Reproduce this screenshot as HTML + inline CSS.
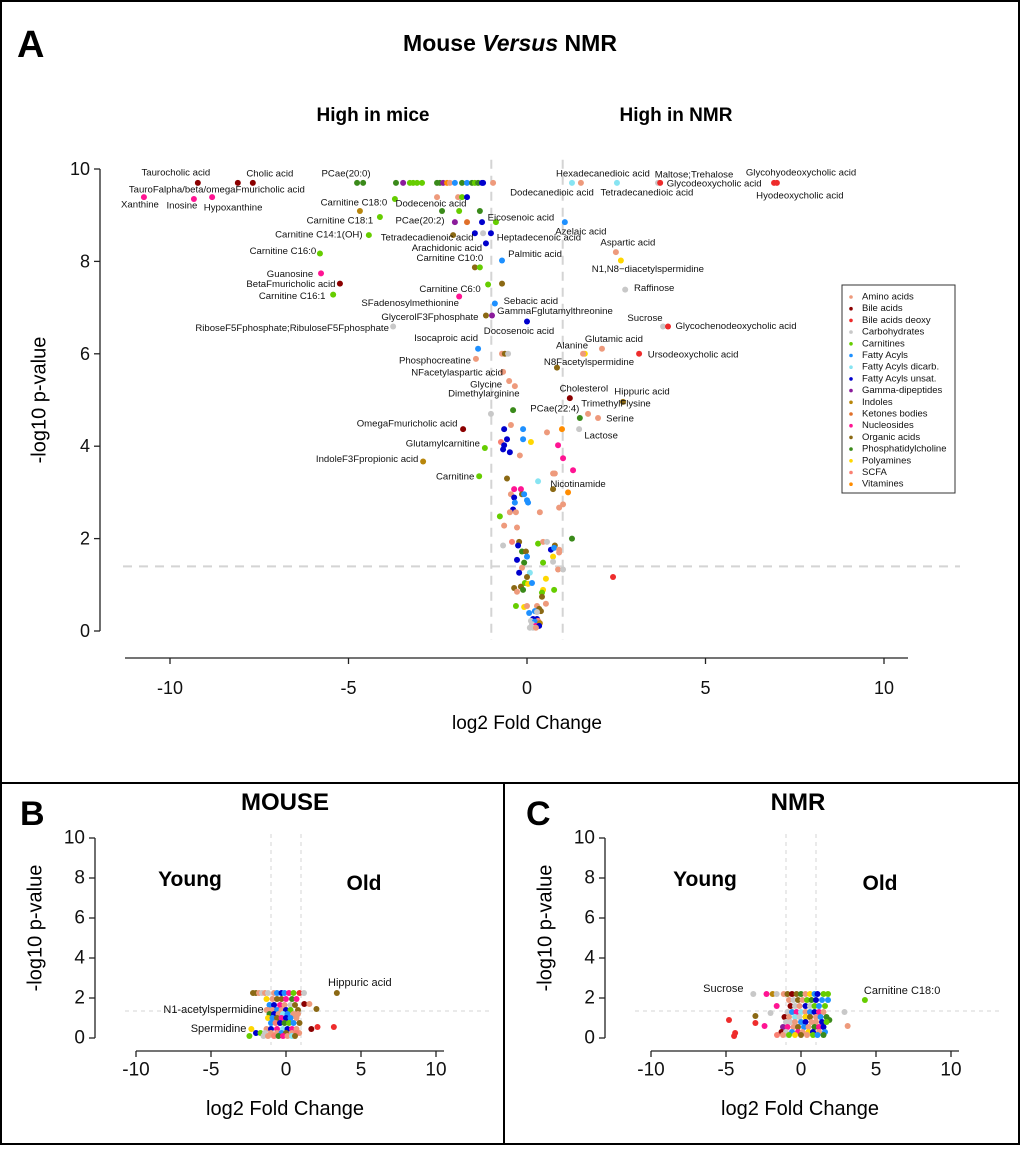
<!DOCTYPE html>
<html><head><meta charset="utf-8"><style>
html,body{margin:0;padding:0;background:#fff}
svg{display:block;font-family:"Liberation Sans",Arial,sans-serif}
</style></head><body>
<svg id="fig" width="1020" height="1163" viewBox="0 0 1020 1163" xmlns="http://www.w3.org/2000/svg">
<rect x="0" y="0" width="1020" height="1163" fill="#fff"/>
<rect x="1" y="1" width="1018" height="782" fill="none" stroke="#000" stroke-width="2"/>
<rect x="1" y="783" width="503" height="361" fill="none" stroke="#000" stroke-width="2"/>
<rect x="504" y="783" width="515" height="361" fill="none" stroke="#000" stroke-width="2"/>
<text x="17" y="57" font-size="38" font-weight="bold">A</text>
<text x="510" y="51" font-size="23" font-weight="bold" text-anchor="middle">Mouse <tspan font-style="italic">Versus</tspan> NMR</text>
<text x="373" y="121" font-size="19" font-weight="bold" text-anchor="middle">High in mice</text>
<text x="676" y="121" font-size="19" font-weight="bold" text-anchor="middle">High in NMR</text>
<text x="40" y="400" font-size="20" text-anchor="middle" transform="rotate(-90 40 400)" dominant-baseline="middle">-log10 p-value</text>
<text x="527" y="729" font-size="19" text-anchor="middle">log2 Fold Change</text>
<text x="20" y="825" font-size="34" font-weight="bold">B</text>
<text x="285" y="810" font-size="24" font-weight="bold" text-anchor="middle">MOUSE</text>
<text x="190" y="886" font-size="21" font-weight="bold" text-anchor="middle">Young</text>
<text x="364" y="890" font-size="21" font-weight="bold" text-anchor="middle">Old</text>
<text x="36" y="928" font-size="20" text-anchor="middle" transform="rotate(-90 36 928)" dominant-baseline="middle">-log10 p-value</text>
<text x="285" y="1115" font-size="20" text-anchor="middle">log2 Fold Change</text>
<text x="526" y="825" font-size="34" font-weight="bold">C</text>
<text x="798" y="810" font-size="24" font-weight="bold" text-anchor="middle">NMR</text>
<text x="705" y="886" font-size="21" font-weight="bold" text-anchor="middle">Young</text>
<text x="880" y="890" font-size="21" font-weight="bold" text-anchor="middle">Old</text>
<text x="546" y="928" font-size="20" text-anchor="middle" transform="rotate(-90 546 928)" dominant-baseline="middle">-log10 p-value</text>
<text x="800" y="1115" font-size="20" text-anchor="middle">log2 Fold Change</text>
<g id="legend"><rect x="842" y="285" width="113" height="208" fill="#fff" stroke="#333" stroke-width="1"/></g>
</svg>
<script>
const categories=['Amino acids','Bile acids','Bile acids deoxy','Carbohydrates','Carnitines','Fatty Acyls','Fatty Acyls dicarb.','Fatty Acyls unsat.','Gamma-dipeptides','Indoles','Ketones bodies','Nucleosides','Organic acids','Phosphatidylcholine','Polyamines','SCFA','Vitamines'];
const catColors=['#ee9a7c','#8b0000','#ee2c2c','#c8c8c8','#66cd00','#1e90ff','#87e4f2','#0000cd','#8b1c9b','#b8860b','#e0702a','#ff1493','#8b6914','#3a8a1a','#ffd700','#fa8072','#ff8c00'];
const xTicks=[-10,-5,0,5,10];
const yTicks=[0,2,4,6,8,10];
/* Panel A labelled points */
const aLabX=[-9.22,-8.10,-7.68,-10.73,-9.33,-8.82,-4.76,-3.70,-1.68,-4.12,-2.38,-4.43,-2.07,-1.15,-1.32,-5.80,-5.77,-5.24,-5.43,-1.09,-1.90,-1.15,-3.75,-0.90,-0.98,0.00,-1.37,-1.43,-0.67,-0.50,-0.34,-1.79,-1.18,-2.91,-1.34,2.10,1.57,3.14,0.84,1.20,2.69,1.71,1.99,1.48,1.46,1.15,1.51,1.26,2.52,3.67,3.73,6.92,7.00,-0.87,1.06,-1.01,-0.70,2.49,2.63,2.75,3.81,3.95];
const aLabY=[9.70,9.70,9.70,9.39,9.35,9.39,9.70,9.35,9.39,8.96,9.09,8.57,8.57,8.39,7.87,8.17,7.74,7.52,7.28,7.50,7.24,6.83,6.59,7.09,6.83,6.70,6.11,5.89,5.61,5.41,5.30,4.37,3.96,3.67,3.35,6.11,6.00,6.00,5.70,5.04,4.96,4.70,4.61,4.61,4.37,3.00,9.70,9.70,9.70,9.70,9.70,9.70,9.70,8.85,8.85,8.61,8.02,8.20,8.02,7.39,6.59,6.59];
const aLabCat=[1,1,1,11,11,11,13,4,7,4,13,4,12,7,4,4,11,1,4,4,11,12,3,5,8,7,5,0,0,0,0,1,4,9,4,0,0,2,12,1,12,0,0,13,3,16,0,6,6,3,2,2,2,4,5,7,5,0,14,3,3,2];
const aLabText=['Taurocholic acid','Cholic acid','TauroFalpha/beta/omegaFmuricholic acid','Xanthine','Inosine','Hypoxanthine','PCae(20:0)','Carnitine C18:0','Dodecenoic acid','Carnitine C18:1','PCae(20:2)','Carnitine C14:1(OH)','Tetradecadienoic acid','Arachidonic acid','Carnitine C10:0','Carnitine C16:0','Guanosine','BetaFmuricholic acid','Carnitine C16:1','Carnitine C6:0','SFadenosylmethionine','GlycerolF3Fphosphate','RiboseF5Fphosphate;RibuloseF5Fphosphate','Sebacic acid','GammaFglutamylthreonine','Docosenoic acid','Isocaproic acid','Phosphocreatine','NFacetylaspartic acid','Glycine','Dimethylarginine','OmegaFmuricholic acid','Glutamylcarnitine','IndoleF3Fpropionic acid','Carnitine','Glutamic acid','Alanine','Ursodeoxycholic acid','N8Facetylspermidine','Cholesterol','Hippuric acid','TrimethylFlysine','Serine','PCae(22:4)','Lactose','Nicotinamide','Hexadecanedioic acid','Dodecanedioic acid','Tetradecanedioic acid','Maltose;Trehalose','Glycodeoxycholic acid','Glycohyodeoxycholic acid','Hyodeoxycholic acid','Eicosenoic acid','Azelaic acid','Heptadecenoic acid','Palmitic acid','Aspartic acid','N1,N8\u2212diacetylspermidine','Raffinose','Sucrose','Glycochenodeoxycholic acid'];
/* Panel A unlabelled points */
const aX=[-4.59,-3.67,-3.47,-3.28,-3.19,-3.08,-2.94,-2.52,-2.44,-2.35,-2.24,-2.16,-2.02,-1.82,-1.68,-1.54,-1.46,-1.37,-1.26,-1.23,-0.95,-2.52,-1.93,-1.82,-4.68,-1.90,-1.32,-2.02,-1.68,-1.26,-1.46,-1.23,-1.46,-0.70,-0.70,-0.62,-0.53,1.62,
-1.01,-0.39,-0.45,-0.64,-0.11,0.56,0.98,-0.73,-0.56,-0.11,0.11,-0.64,-0.67,-0.48,-0.20,0.87,1.01,1.29,0.73,0.78,-0.56,0.31,0.73,-0.36,-0.17,-0.45,-0.14,-0.08,-0.36,0.00,-0.34,0.03,1.01,0.90,-0.39,-0.48,-0.31,0.36,-0.76,-0.64,-0.28,1.26,-0.42,-0.22,-0.67,-0.25,0.31,0.45,0.56,0.78,0.67,0.76,0.90,0.90,-0.14,-0.03,0.00,0.73,-0.28,-0.08,0.45,0.73,-0.14,0.87,1.01,2.41,-0.22,0.08,0.00,0.53,-0.06,0.03,0.14,-0.36,-0.17,-0.11,-0.28,0.45,0.42,0.76,0.42,0.53,-0.31,-0.08,0.00,0.28,0.34,0.39,0.22,0.06,0.28,0.17,0.28,0.31,0.11,0.22,0.36,0.14,0.25,0.34,0.17,0.08,0.25];
const aY=[9.70,9.70,9.70,9.70,9.70,9.70,9.70,9.70,9.70,9.70,9.70,9.70,9.70,9.70,9.70,9.70,9.70,9.70,9.70,9.70,9.70,9.39,9.39,9.39,9.09,9.09,9.09,8.85,8.85,8.85,8.61,8.61,7.87,7.52,6.00,6.00,6.00,6.00,
4.70,4.78,4.46,4.37,4.37,4.30,4.37,4.09,4.15,4.15,4.09,4.02,3.93,3.87,3.80,4.02,3.74,3.48,3.41,3.41,3.30,3.24,3.07,3.07,3.07,2.96,2.96,2.96,2.89,2.83,2.78,2.78,2.74,2.67,2.63,2.57,2.57,2.57,2.48,2.28,2.24,2.00,1.93,1.93,1.85,1.85,1.89,1.93,1.93,1.85,1.76,1.80,1.76,1.70,1.72,1.72,1.61,1.61,1.54,1.48,1.48,1.50,1.37,1.33,1.33,1.17,1.26,1.26,1.17,1.13,1.04,1.02,1.04,0.93,0.96,0.89,0.85,0.89,0.83,0.89,0.74,0.59,0.54,0.52,0.54,0.54,0.48,0.43,0.43,0.39,0.41,0.26,0.26,0.22,0.22,0.20,0.17,0.15,0.11,0.11,0.07,0.07,0.07];
const aCat=[13,13,8,4,4,4,4,13,13,8,16,0,5,13,5,13,4,13,7,7,0,0,0,4,9,4,13,8,10,7,7,3,12,12,0,12,3,14,
3,13,0,7,5,0,16,15,7,5,14,7,7,7,0,11,11,11,0,0,12,6,12,11,11,0,12,5,7,5,5,5,0,0,7,0,0,0,4,0,0,13,15,12,3,7,4,0,3,12,7,5,0,0,13,12,5,14,7,13,4,3,0,0,3,2,7,6,12,14,4,14,5,12,12,13,0,14,4,4,12,0,4,14,0,0,12,12,5,5,3,7,7,15,3,5,9,3,11,7,3,3,0];
/* Panel B (mouse) */
const bX=[3.39,-1.29,-2.31,1.22,1.56,2.03,1.69,2.10,3.19,-2.44,0.88,
-2.2,-2.0,-1.8,-1.6,-1.4,-1.2,-0.8,-0.6,-0.3,-0.1,0.2,0.5,0.9,1.2,
-1.3,-0.9,-0.6,-0.3,0.0,0.4,0.7,
-1.1,-0.8,-0.4,-0.1,0.3,0.6,
-1.2,-0.9,-0.6,-0.3,0.0,0.3,0.8,
-1.1,-0.8,-0.5,-0.2,0.1,0.5,0.8,
-1.2,-0.9,-0.6,-0.3,0.0,0.3,0.7,
-1.0,-0.7,-0.4,-0.1,0.2,0.5,0.9,
-1.3,-1.0,-0.6,-0.2,0.1,0.4,0.7,
-2.0,-1.7,-1.4,-1.0,-0.6,-0.3,0.0,0.4,0.7,
-1.5,-1.2,-0.8,-0.5,-0.2,0.1,0.4,0.6];
const bY=[2.25,1.40,0.45,1.70,1.70,1.45,0.45,0.55,0.55,0.10,0.25,
2.25,2.25,2.25,2.25,2.25,2.25,2.25,2.25,2.25,2.25,2.25,2.25,2.25,2.25,
1.95,1.95,1.95,1.95,1.95,1.95,1.95,
1.65,1.65,1.65,1.65,1.65,1.65,
1.40,1.40,1.40,1.40,1.40,1.40,1.40,
1.20,1.20,1.20,1.20,1.20,1.20,1.20,
1.00,1.00,1.00,1.00,1.00,1.00,1.00,
0.75,0.75,0.75,0.75,0.75,0.75,0.75,
0.45,0.45,0.45,0.45,0.45,0.45,0.45,
0.25,0.25,0.25,0.25,0.25,0.25,0.25,0.25,0.25,
0.10,0.10,0.10,0.10,0.10,0.10,0.10,0.10];
const bCat=[12,0,14,1,0,12,1,2,2,4,0,
12,12,0,3,0,3,0,5,7,5,11,4,2,3,
14,0,12,12,11,13,11,
5,7,11,0,3,12,
0,0,5,0,7,4,12,
13,7,0,6,5,0,0,
14,5,12,11,7,5,0,
5,15,7,13,4,5,12,
0,7,11,6,7,11,0,
7,4,3,0,0,5,12,0,15,
3,0,15,13,11,0,6,12];
const bLabIdx=[0,1,2];
const bLabText=['Hippuric acid','N1-acetylspermidine','Spermidine'];
/* Panel C (NMR) */
const cX=[-3.18,4.26,-4.8,-4.39,-4.46,-3.04,-3.04,-2.43,-2.03,-1.62,2.9,3.11,1.89,-2.3,-1.89,-1.62,-1.15,
-0.9,-0.6,-0.3,0.0,0.3,0.6,0.9,1.1,1.5,1.8,
-0.8,-0.5,-0.2,0.1,0.4,0.7,1.0,1.4,1.8,
-0.7,-0.4,-0.1,0.3,0.6,0.9,1.2,1.6,
-0.9,-0.6,-0.3,0.0,0.3,0.6,0.9,1.2,1.5,
-1.1,-0.8,-0.4,-0.1,0.3,0.6,1.0,1.3,1.7,
-1.0,-0.7,-0.4,0.0,0.3,0.7,1.0,1.4,1.7,
-1.2,-0.9,-0.5,-0.2,0.2,0.5,0.9,1.2,1.5,
-1.3,-1.0,-0.6,-0.2,0.1,0.5,0.8,1.2,1.6,
-1.6,-1.2,-0.8,-0.4,0.0,0.4,0.8,1.1,1.5];
const cY=[2.2,1.9,0.9,0.25,0.1,1.1,0.75,0.6,1.25,1.6,1.3,0.6,0.9,2.2,2.2,2.2,2.2,
2.2,2.2,2.2,2.2,2.2,2.2,2.2,2.2,2.2,2.2,
1.9,1.9,1.9,1.9,1.9,1.9,1.9,1.9,1.9,
1.6,1.6,1.6,1.6,1.6,1.6,1.6,1.6,
1.3,1.3,1.3,1.3,1.3,1.3,1.3,1.3,1.3,
1.05,1.05,1.05,1.05,1.05,1.05,1.05,1.05,1.05,
0.8,0.8,0.8,0.8,0.8,0.8,0.8,0.8,0.8,
0.55,0.55,0.55,0.55,0.55,0.55,0.55,0.55,0.55,
0.3,0.3,0.3,0.3,0.3,0.3,0.3,0.3,0.3,
0.15,0.15,0.15,0.15,0.15,0.15,0.15,0.15,0.15];
const cCat=[3,4,2,2,2,12,2,11,3,11,3,0,13,11,9,3,0,
12,1,12,13,0,14,5,7,4,4,
0,3,12,0,4,13,7,5,5,
1,3,0,7,3,4,5,4,
3,5,11,6,0,5,7,11,0,
1,0,6,3,14,12,0,5,13,
3,3,0,5,7,0,0,7,4,
8,11,0,12,5,0,13,11,7,
1,3,5,11,0,14,7,0,5,
15,0,4,14,12,0,4,5,13];
const cLabIdx=[0,1];
const cLabText=['Sucrose','Carnitine C18:0'];
</script>
<script>
const NS='http://www.w3.org/2000/svg';
const svg=document.getElementById('fig');
function mk(tag,attrs,parent,txt){const e=document.createElementNS(NS,tag);for(const k in attrs)e.setAttribute(k,attrs[k]);if(txt!==undefined)e.textContent=txt;(parent||svg).appendChild(e);return e;}
/* label styling offsets (px) for panel A labels: dx, dy */
const aLabDx=[-22,32,-36,-4,-12,21,-11,-41,-36,-40,-22,-50,-26,-39,-30,-37,-31,-49,-41,-38,-49,-56,-101,36,63,-8,-32,-41,-46,-23,-31,-56,-42,-56,-24,12,-11,54,32,14,19,28,22,-25,22,10,22,-20,30,36,54,27,23,25,16,48,33,12,27,29,-18,68];
const aLabDy=[-10,-9,7,8,7,11,-9,4,7,4,10,0,3,5,-9,-2,1,1,2,5,7,2,2,-2,-4,10,-10,2,1,4,8,-5,-4,-2,1,-9,-8,1,-5,-9,-10,-10,1,-9,7,-8,-9,10,10,-8,1,-10,13,-4,10,5,-6,-9,9,-1,-8,0];

function panel(cfg){
  const g=mk('g',{},svg);
  
  
  const sx=v=>cfg.x0+v*cfg.kx, sy=v=>cfg.y0-v*cfg.ky;
  // y axis
  const ya=mk('line',{x1:cfg.yAxisX,x2:cfg.yAxisX,y1:sy(10),y2:sy(0),stroke:'#222','stroke-width':1.3},g);
  
  
  yTicks.forEach(t=>{
    const tl=mk('line',{x1:cfg.yAxisX-6,x2:cfg.yAxisX,y1:sy(t),y2:sy(t),stroke:'#222','stroke-width':1.3},g);
    
    
    const tx=mk('text',{x:cfg.yAxisX-10,y:sy(t),'font-size':cfg.tickFont,'text-anchor':'end','dominant-baseline':'central',fill:'#111'},g,String(t));
    
    
  });
  // x axis
  const xa=mk('line',{x1:sx(-10)-cfg.axExt,x2:sx(10)+cfg.axExtR,y1:cfg.xAxisY,y2:cfg.xAxisY,stroke:'#222','stroke-width':1.3},g);
  
  
  xTicks.forEach(t=>{
    const tl=mk('line',{x1:sx(t),x2:sx(t),y1:cfg.xAxisY,y2:cfg.xAxisY+6,stroke:'#222','stroke-width':1.3},g);
    
    
    const tx=mk('text',{x:sx(t),y:cfg.xAxisY+cfg.xLabOff,'font-size':cfg.tickFont,'text-anchor':'middle','dominant-baseline':'central',fill:'#111'},g,String(t));
    
    
  });
  // threshold lines
  [-1,1].forEach(v=>{
    const l=mk('line',{x1:sx(v),x2:sx(v),y1:sy(10.2),y2:cfg.vBottom,stroke:'#d4d4d4','stroke-width':cfg.dashW,'stroke-dasharray':cfg.dash},g);
    
    
  });
  const h=mk('line',{x1:cfg.hLeft,x2:cfg.hRight,y1:sy(cfg.thr),y2:sy(cfg.thr),stroke:'#d4d4d4','stroke-width':cfg.dashW,'stroke-dasharray':cfg.dash},g);
  
  
  return {g,sx,sy};
}
function dots(p,xs,ys,cs,r,name){
  for(let i=0;i<xs.length;i++){
    const c=mk('circle',{cx:p.sx(xs[i]),cy:p.sy(ys[i]),r:r,fill:catColors[cs[i]]},p.g);
    
    
  }
}
// Panel A
const pA=panel({name:'panel-a',x0:527,kx:35.7,y0:631,ky:46.2,yAxisX:100,xAxisY:658,axExt:45,axExtR:24,xLabOff:30,tickFont:18,thr:1.4,hLeft:123,hRight:960,vBottom:640,dash:'9,7',dashW:2});
dots(pA,aX,aY,aCat,3,'metabolite-point');
dots(pA,aLabX,aLabY,aLabCat,3,'labeled-metabolite-point');
for(let i=0;i<aLabText.length;i++){
  const t=mk('text',{x:pA.sx(aLabX[i])+aLabDx[i],y:pA.sy(aLabY[i])+aLabDy[i],'font-size':9.6,'text-anchor':'middle','dominant-baseline':'central',fill:'#111'},pA.g,aLabText[i]);
  
  
}
// Panel B
const pB=panel({name:'panel-b',x0:286,kx:15,y0:1038,ky:20,yAxisX:95,xAxisY:1051,axExt:0,axExtR:8,xLabOff:19,tickFont:19,thr:1.35,hLeft:125,hRight:490,vBottom:1045,dash:'4,4',dashW:1});
dots(pB,bX,bY,bCat,3,'mouse-metabolite-point');
const bLabDx=[23,-3,-5], bLabDy=[-10,0,0], bLabAnchor=['middle','end','end'];
bLabIdx.forEach((idx,j)=>{
  const t=mk('text',{x:pB.sx(bX[idx])+bLabDx[j],y:pB.sy(bY[idx])+bLabDy[j],'font-size':11,'text-anchor':bLabAnchor[j],'dominant-baseline':'central',fill:'#111'},pB.g,bLabText[j]);
  
  
});
// Panel C
const pC=panel({name:'panel-c',x0:801,kx:15,y0:1038,ky:20,yAxisX:605,xAxisY:1051,axExt:0,axExtR:8,xLabOff:19,tickFont:19,thr:1.35,hLeft:635,hRight:1000,vBottom:1045,dash:'4,4',dashW:1});
dots(pC,cX,cY,cCat,3,'nmr-metabolite-point');
const cLabDx=[-30,-1], cLabDy=[-5,-9], cLabAnchor=['middle','start'];
cLabIdx.forEach((idx,j)=>{
  const t=mk('text',{x:pC.sx(cX[idx])+cLabDx[j],y:pC.sy(cY[idx])+cLabDy[j],'font-size':11,'text-anchor':cLabAnchor[j],'dominant-baseline':'central',fill:'#111'},pC.g,cLabText[j]);
  
  
});
// Legend
const lg=document.getElementById('legend');
categories.forEach((c,i)=>{
  const y=297+i*11.7;
  const d=mk('circle',{cx:851,cy:y,r:1.8,fill:catColors[i]},lg);
  
  
  const t=mk('text',{x:862,y:y,'font-size':9.5,'dominant-baseline':'central',fill:'#111'},lg,c);
  
  
});
</script>
</body></html>
